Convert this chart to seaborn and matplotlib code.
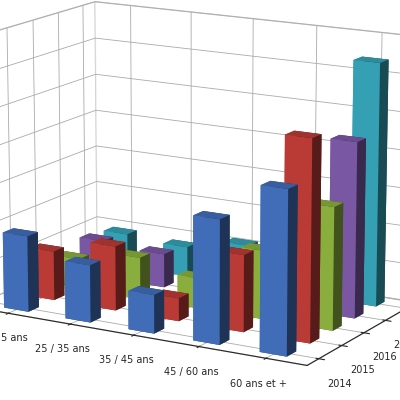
import numpy as np
import matplotlib
matplotlib.use("Agg")
import matplotlib.pyplot as plt
import seaborn as sns

sns.set_style("white")

ages = ["18 / 25 ans", "25 / 35 ans", "35 / 45 ans", "45 / 60 ans", "60 ans et +"]
years = ["2014", "2015", "2016", "2017", "2018"]
colors = ["#4a7bd0", "#d2433d", "#9bc545", "#8a62b8", "#3cb5cc"]

v2014 = [100, 75, 50, 160, 210]
v2015 = [65, 85, 30, 100, 260]
v2016 = [40, 55, 40, 90, 160]
v2017 = [50, 45, 60, 80, 230]
v2018 = [45, 40, 55, 95, 320]
series = [v2014, v2015, v2016, v2017, v2018]

fig = plt.figure(figsize=(4, 4), dpi=100)
ax = fig.add_axes([-0.17, -0.1, 1.28, 1.3], projection="3d")
ax.set_box_aspect((1.6, 1.0, 1.15))
ax.view_init(elev=14, azim=-60)

for j in range(len(years) - 1, -1, -1):
    ax.bar3d(np.arange(len(ages)) - 0.2, np.full(len(ages), j * 1.0) - 0.2,
             np.zeros(len(ages)), 0.4, 0.4, series[j],
             color=colors[j], shade=True, edgecolor="none")

ax.set_xticks(range(len(ages)))
ax.set_xticklabels(ages, fontsize=7)
ax.set_yticks(range(len(years)))
ax.set_yticklabels(years, fontsize=7)
ax.set_zlim(0, 350)
ax.set_zticks(range(0, 351, 50))
ax.set_zticklabels([])
ax.set_xlim(-0.6, 4.6)
ax.set_ylim(-0.5, 4.5)
for axis in (ax.xaxis, ax.yaxis, ax.zaxis):
    axis.pane.set_facecolor("white")
    axis.pane.set_edgecolor("#999999")
    axis._axinfo["grid"]["color"] = "#aaaaaa"
    axis._axinfo["grid"]["linewidth"] = 0.6

fig.savefig("out.png", dpi=100)
